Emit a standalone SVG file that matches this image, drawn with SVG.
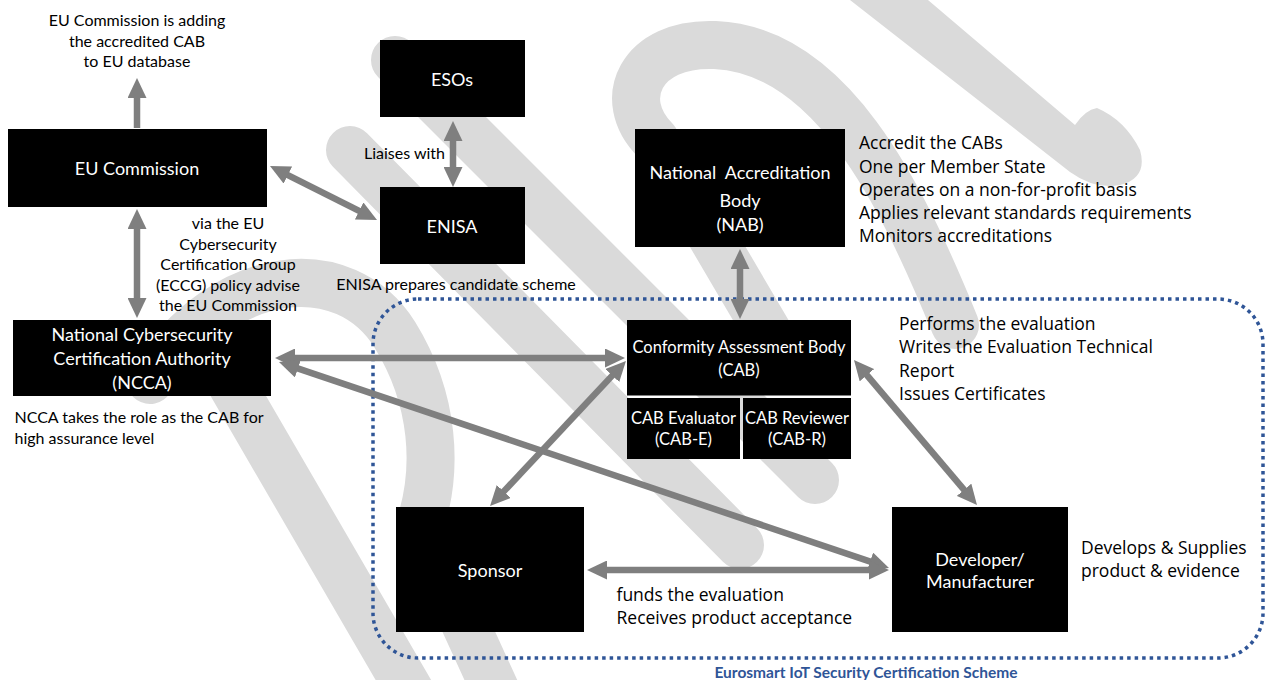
<svg xmlns="http://www.w3.org/2000/svg" width="1267" height="680" viewBox="0 0 1267 680">
<defs>
<marker id="ah" markerUnits="userSpaceOnUse" markerWidth="20" markerHeight="19" refX="5" refY="9.5" orient="auto-start-reverse" viewBox="0 0 20 19">
<path d="M0,0 L20,9.5 L0,19 z" fill="#7f7f7f"/>
</marker>
<style>
.wm{fill:none;stroke:#dadada;stroke-width:48;stroke-linecap:round;stroke-linejoin:round}
.box{fill:#000}
.nt{font-family:Lato,"Liberation Sans",sans-serif;font-size:18px;fill:#fff;text-anchor:middle;dominant-baseline:central}
.ns{font-size:16.5px}
.sm{font-family:Lato,"Liberation Sans",sans-serif;font-size:16px;fill:#000;dominant-baseline:central}
.c{text-anchor:middle}
.note{font-family:"Open Sans","Noto Sans",sans-serif;font-size:17.5px;fill:#000;dominant-baseline:central}
.ar{stroke:#7f7f7f;stroke-width:6.5;fill:none;marker-end:url(#ah)}
.ar2{stroke:#7f7f7f;stroke-width:6.5;fill:none;marker-start:url(#ah);marker-end:url(#ah)}
.lbl{font-family:Lato,"Liberation Sans",sans-serif;font-size:15.5px;font-weight:bold;fill:#2f5597;text-anchor:middle;dominant-baseline:central}
</style>
</defs>
<rect width="1267" height="680" fill="#fff"/>
<g id="watermark">
<path class="wm" d="M350,150 L740,545"/>
<path class="wm" d="M395,60 L815,480"/>
<path class="wm" d="M150,380 C225,265 345,255 395,335 C435,400 438,470 420,525 L500,700"/>
<path class="wm" d="M200,330 L415,700"/>
<path class="wm" d="M955,325 C900,190 830,50 715,45 C640,42 615,100 655,140 L790,370"/>
<path d="M850,0 L928,0 L1075,125 Q1085,110 1097,108 Q1125,120 1140,150 Q1148,178 1120,185 Q1095,190 1070,172 Z" fill="#dadada"/>
</g>
<g id="scheme-boundary">
<rect x="373" y="299" width="890" height="359" rx="45" ry="45" fill="none" stroke="#2f5597" stroke-width="3.5" stroke-dasharray="3.5 4"/>
<text class="lbl" x="866" y="672">Eurosmart IoT Security Certification Scheme</text>
</g>
<g id="connectors">
<line class="ar" x1="137" y1="128" x2="137" y2="93"/>
<line class="ar2" x1="137" y1="224" x2="137" y2="303"/>
<line class="ar2" x1="283.4" y1="172.8" x2="363.6" y2="213.2"/>
<line class="ar2" x1="453" y1="136" x2="453" y2="172"/>
<line class="ar2" x1="740" y1="264" x2="740" y2="304"/>
<line class="ar2" x1="290" y1="358" x2="610" y2="358"/>
<line class="ar2" x1="293.2" y1="366.8" x2="874.8" y2="563.2"/>
<line class="ar2" x1="615.7" y1="371.9" x2="500.3" y2="495.1"/>
<line class="ar2" x1="863.7" y1="371.4" x2="967.3" y2="493.6"/>
<line class="ar2" x1="602" y1="570" x2="874" y2="570"/>
</g>
<g id="eu-commission">
<rect class="box" x="8" y="129" width="259" height="78"/>
<text class="nt" x="137" y="168">EU Commission</text>
</g>
<g id="eu-note">
<text class="sm c" x="137" y="19.5">EU Commission is adding</text>
<text class="sm c" x="137" y="40.3">the accredited CAB</text>
<text class="sm c" x="137" y="60.7">to EU database</text>
</g>
<g id="eccg-note">
<text class="sm c" x="228" y="222.5">via the EU</text>
<text class="sm c" x="228" y="243.7">Cybersecurity</text>
<text class="sm c" x="228" y="263.7">Certification Group</text>
<text class="sm c" x="228" y="284">(ECCG) policy advise</text>
<text class="sm c" x="228" y="304.5">the EU Commission</text>
</g>
<g id="esos">
<rect class="box" x="380" y="40" width="145" height="77"/>
<text class="nt" x="452" y="78.5">ESOs</text>
</g>
<g id="enisa">
<rect class="box" x="380" y="187" width="145" height="77"/>
<text class="nt" x="452" y="225.5">ENISA</text>
<text class="sm" x="445" y="152.7" text-anchor="end">Liaises with</text>
<text class="sm c" x="456" y="283">ENISA prepares candidate scheme</text>
</g>
<g id="ncca">
<rect class="box" x="13" y="320" width="258" height="76"/>
<text class="nt" x="142" y="334">National Cybersecurity</text>
<text class="nt" x="142" y="358">Certification Authority</text>
<text class="nt" x="142" y="382">(NCCA)</text>
<text class="sm" x="14.5" y="416">NCCA takes the role as the CAB for</text>
<text class="sm" x="14.5" y="437">high assurance level</text>
</g>
<g id="nab">
<rect class="box" x="635" y="129" width="210" height="118"/>
<text class="nt" x="740" y="172" style="white-space:pre">National  Accreditation</text>
<text class="nt" x="740" y="200">Body</text>
<text class="nt" x="740" y="224">(NAB)</text>
<text class="note" x="859" y="142">Accredit the CABs</text>
<text class="note" x="859" y="166">One per Member State</text>
<text class="note" x="859" y="189">Operates on a non-for-profit basis</text>
<text class="note" x="859" y="212">Applies relevant standards requirements</text>
<text class="note" x="859" y="235">Monitors accreditations</text>
</g>
<g id="cab">
<rect class="box" x="627" y="320" width="224" height="75.5"/>
<text class="nt ns" x="739" y="347">Conformity Assessment Body</text>
<text class="nt ns" x="739" y="369.5">(CAB)</text>
<text class="note" x="899" y="322.7">Performs the evaluation</text>
<text class="note" x="899" y="346">Writes the Evaluation Technical</text>
<text class="note" x="899" y="369.5">Report</text>
<text class="note" x="899" y="392.5">Issues Certificates</text>
</g>
<g id="cab-e">
<rect class="box" x="627" y="398" width="113" height="61"/>
<text class="nt ns" x="683.5" y="417.6">CAB Evaluator</text>
<text class="nt ns" x="683.5" y="439">(CAB-E)</text>
</g>
<g id="cab-r">
<rect class="box" x="743" y="398" width="108" height="61"/>
<text class="nt ns" x="797" y="417.6">CAB Reviewer</text>
<text class="nt ns" x="797" y="439">(CAB-R)</text>
</g>
<g id="sponsor">
<rect class="box" x="396" y="507" width="188" height="125"/>
<text class="nt" x="490" y="570">Sponsor</text>
<text class="note" x="616.5" y="594">funds the evaluation</text>
<text class="note" x="616.5" y="617">Receives product acceptance</text>
</g>
<g id="developer">
<rect class="box" x="892" y="507" width="176" height="125"/>
<text class="nt" x="980" y="558.6">Developer/</text>
<text class="nt" x="980" y="581">Manufacturer</text>
<text class="note" x="1081" y="547">Develops &amp; Supplies</text>
<text class="note" x="1081" y="570">product &amp; evidence</text>
</g>
</svg>
